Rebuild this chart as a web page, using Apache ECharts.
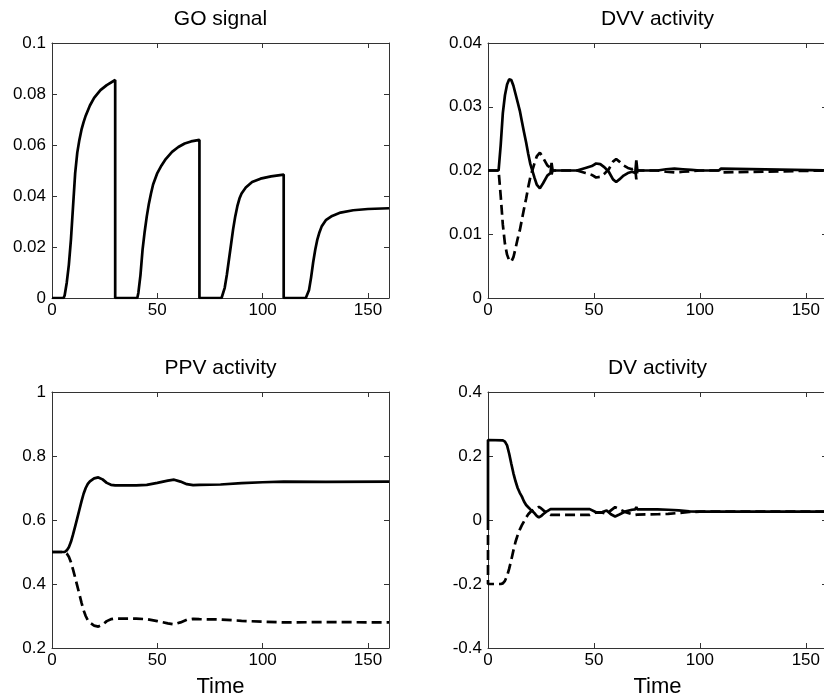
<!DOCTYPE html>
<html><head><meta charset="utf-8">
<script src="https://cdn.jsdelivr.net/npm/echarts@6/dist/echarts.min.js"></script>
<style>html,body{margin:0;padding:0;background:#fff}#c{width:824px;height:700px}</style>
</head><body><div id="c"></div>
<script>
// ---------- tick labels ----------
const xTicks = [0, 50, 100, 150];
const goTicks  = [0, 0.02, 0.04, 0.06, 0.08, 0.1];
const dvvTicks = [0, 0.01, 0.02, 0.03, 0.04];
const ppvTicks = [0.2, 0.4, 0.6, 0.8, 1];
const dvTicks  = [-0.4, -0.2, 0, 0.2, 0.4];
const titles = ['GO signal', 'DVV activity', 'PPV activity', 'DV activity'];
const xName = 'Time';

// ---------- GO signal ----------
const goT = [0,5.5,6,7,8,9,10,11,12,13,14,15,16,18,20,23,26,30,
  30,40.5,41,42,43,44,45,46,47,48,50,52,54,57,60,63,66,70,
  70,80.5,82,83,84,85,86,87,88,89,90,92,95,99,104,110,
  110,120.5,122,123,124,125,126,127,128,130,133,137,143,150,160];
const goV = [0,0,0.001,0.006,0.013,0.023,0.036,0.049,0.057,0.062,0.066,0.069,0.0715,0.0755,0.0785,0.0815,0.0835,0.0855,
  0,0,0.002,0.009,0.019,0.026,0.032,0.037,0.041,0.0445,0.049,0.052,0.0545,0.0573,0.0592,0.0606,0.0614,0.062,
  0,0,0.004,0.009,0.015,0.021,0.027,0.032,0.036,0.039,0.041,0.0433,0.0455,0.0468,0.0477,0.0484,
  0,0,0.003,0.008,0.014,0.019,0.023,0.0258,0.028,0.0305,0.0322,0.0335,0.0344,0.0349,0.0352];

// ---------- DVV activity ----------
const dvvSolidT = [0,5,6,7,8,9,10,11,12,13,14,15,16,17,18,19,20,21,22,23,24.5,26,28,29.5,30,30.5,
  42,46,49,51,53,55,57,59,60.5,62,64,66,68,69.5,70,70.5,80,84,88,92,96,100,109,109.5,110,160];
const dvvSolidV = [0.02,0.02,0.024,0.029,0.0318,0.0335,0.0343,0.0342,0.0333,0.032,0.0307,0.0294,0.0277,0.026,0.0244,0.0226,0.021,0.0199,0.0188,0.0178,0.0172,0.018,0.0192,0.0196,0.0212,0.02,
  0.02,0.0204,0.0207,0.0211,0.021,0.0205,0.0198,0.0186,0.0182,0.0186,0.0192,0.0196,0.0198,0.0196,0.0216,0.02,0.02,0.0202,0.0203,0.0202,0.0201,0.02,0.02,0.0197,0.0203,0.02];
const dvvDashT = [0,5,6,7,8,9,10,11,12,13,14,15,16,17,18,19,20,21,22,23,24.5,26,28,29.5,30,30.5,
  42,46,49,51,53,55,57,59,60.5,62,64,66,68,69.5,70,70.5,80,84,88,92,96,100,109,109.5,110,160];
const dvvDashV = [0.02,0.02,0.016,0.0115,0.0085,0.0068,0.0059,0.0057,0.0064,0.0078,0.0093,0.0106,0.0123,0.014,0.0156,0.0174,0.019,0.0201,0.0212,0.0222,0.0228,0.022,0.0208,0.0204,0.0194,0.02,
  0.02,0.0196,0.0193,0.0189,0.019,0.0195,0.0202,0.0214,0.0218,0.0214,0.0208,0.0204,0.0202,0.0204,0.0186,0.02,0.02,0.0198,0.0197,0.0198,0.0199,0.02,0.02,0.0203,0.0197,0.02];

// ---------- PPV activity ----------
const ppvT = [0,6,7,8,9,10,11,12,13,14,15,16,17,18,20,22,24,26,28,30,35,40,45,50,55,58,61,64,67,70,80,90,100,110,130,160];
const ppvSolid = [0.5,0.5,0.505,0.515,0.532,0.555,0.58,0.606,0.632,0.658,0.682,0.7,0.713,0.721,0.73,0.733,0.727,0.716,0.71,0.708,0.708,0.708,0.71,0.716,0.723,0.726,0.72,0.712,0.709,0.71,0.711,0.715,0.718,0.72,0.719,0.72];
const ppvDash  = [0.5,0.5,0.495,0.485,0.468,0.445,0.42,0.394,0.368,0.342,0.318,0.3,0.287,0.279,0.27,0.267,0.273,0.284,0.29,0.292,0.292,0.292,0.29,0.284,0.277,0.274,0.28,0.288,0.291,0.29,0.289,0.285,0.282,0.28,0.281,0.28];

// ---------- DV activity ----------
const dvSolidT = [0,0,7,8,9,10,11,12,13,14,15,16,17,18,19,20,21,22,23,24,25,26,28,29.5,30,31,
  40,48,51,54,56,58,60,62,65,68,69.5,70,70.5,80,85,90,95,100,109.5,110,110.5,160];
const dvSolidV = [0,0.25,0.249,0.245,0.233,0.207,0.176,0.146,0.121,0.1,0.085,0.073,0.058,0.047,0.04,0.033,0.027,0.021,0.013,0.008,0.012,0.018,0.028,0.034,0.036,0.034,
  0.034,0.034,0.024,0.025,0.03,0.018,0.011,0.017,0.027,0.032,0.033,0.04,0.033,0.033,0.032,0.03,0.027,0.026,0.026,0.023,0.026,0.026];
const dvDashT = [0,0,6,7,8,9,10,11,12,13,14,15,16,17,18,19,20,21,22,23,24,25,26,28,29.5,30,
  40,48,51,54,56,58,60,62,65,68,69.5,70,70.5,80,85,90,95,100,109.5,110,110.5,160];
const dvDashV = [0,-0.2,-0.2,-0.198,-0.19,-0.175,-0.152,-0.125,-0.095,-0.068,-0.047,-0.03,-0.016,-0.004,0.008,0.018,0.025,0.03,0.034,0.038,0.041,0.037,0.031,0.021,0.016,0.016,
  0.016,0.016,0.024,0.023,0.019,0.03,0.04,0.034,0.024,0.018,0.016,0.011,0.017,0.018,0.019,0.022,0.025,0.026,0.026,0.028,0.026,0.026];

// ---------- build ----------
const FONT = 'Liberation Sans, Arial, Helvetica, sans-serif';
const zip = (t, v) => t.map((x, i) => [x, v[i]]);
const grids = [
  {left: 52, top: 43, width: 337, height: 255},
  {left: 488, top: 43, width: 339, height: 255},
  {left: 52, top: 392, width: 337, height: 256},
  {left: 488, top: 392, width: 339, height: 256}
].map(g => Object.assign(g, {outerBoundsMode: 'none', containLabel: false}));
const yTickSets = [goTicks, dvvTicks, ppvTicks, dvTicks];
const AX = '#333';
const xAxes = [], yAxes = [];
grids.forEach((g, i) => {
  const base = {
    gridIndex: i, type: 'value', min: 0, max: 160, interval: 50,
    axisLine: {show: true, onZero: false, lineStyle: {color: AX, width: 1}},
    axisTick: {show: true, inside: true, length: 5, lineStyle: {color: AX}},
    splitLine: {show: false}
  };
  xAxes.push(Object.assign({}, base, {position: 'bottom',
    axisLabel: {show: true, fontFamily: FONT, fontSize: 17, color: '#000', margin: 4,
      formatter: v => xTicks.includes(v) ? String(v) : ''}}));
  xAxes.push(Object.assign({}, base, {position: 'top', axisLabel: {show: false}}));
  const tk = yTickSets[i];
  const ybase = {
    gridIndex: i, type: 'value', min: tk[0], max: tk[tk.length - 1], interval: tk[1] - tk[0],
    axisLine: {show: true, onZero: false, lineStyle: {color: AX, width: 1}},
    axisTick: {show: true, inside: true, length: 5, lineStyle: {color: AX}},
    splitLine: {show: false}
  };
  yAxes.push(Object.assign({}, ybase, {position: 'left',
    axisLabel: {show: true, fontFamily: FONT, fontSize: 17, color: '#000', margin: 6,
      formatter: v => String(+v.toFixed(3))}}));
  yAxes.push(Object.assign({}, ybase, {position: 'right', axisLabel: {show: false}}));
});

const solid = {color: '#000', width: 2.7, type: 'solid'};
const dashed = {color: '#000', width: 2.7, type: [10, 5]};
function line(i, data, style) {
  return {type: 'line', xAxisIndex: 2 * i, yAxisIndex: 2 * i, data: data,
    showSymbol: false, symbol: 'none', lineStyle: style, animation: false, silent: true, z: 3};
}
const series = [
  line(0, zip(goT, goV), solid),
  line(1, zip(dvvDashT, dvvDashV), dashed),
  line(1, zip(dvvSolidT, dvvSolidV), solid),
  line(2, zip(ppvT, ppvDash), dashed),
  line(2, zip(ppvT, ppvSolid), solid),
  line(3, zip(dvDashT, dvDashV), dashed),
  line(3, zip(dvSolidT, dvSolidV), solid)
];

const tStyle = {fontFamily: FONT, fontSize: 21, fontWeight: 'normal', color: '#000'};
const xStyle = Object.assign({}, tStyle, {fontSize: 22});
const centers = grids.map(g => g.left + g.width / 2);
const title = [
  {text: titles[0], left: centers[0], top: 9, textAlign: 'center', textStyle: tStyle, padding: 0},
  {text: titles[1], left: centers[1], top: 9, textAlign: 'center', textStyle: tStyle, padding: 0},
  {text: titles[2], left: centers[2], top: 358, textAlign: 'center', textStyle: tStyle, padding: 0},
  {text: titles[3], left: centers[3], top: 358, textAlign: 'center', textStyle: tStyle, padding: 0},
  {text: xName, left: centers[2], top: 676, textAlign: 'center', textStyle: xStyle, padding: 0},
  {text: xName, left: centers[3], top: 676, textAlign: 'center', textStyle: xStyle, padding: 0}
];

const chart = echarts.init(document.getElementById('c'), null, {renderer: 'canvas'});
chart.setOption({
  backgroundColor: '#fff',
  animation: false,
  title: title,
  grid: grids,
  xAxis: xAxes,
  yAxis: yAxes,
  series: series
});
</script>
</body></html>
